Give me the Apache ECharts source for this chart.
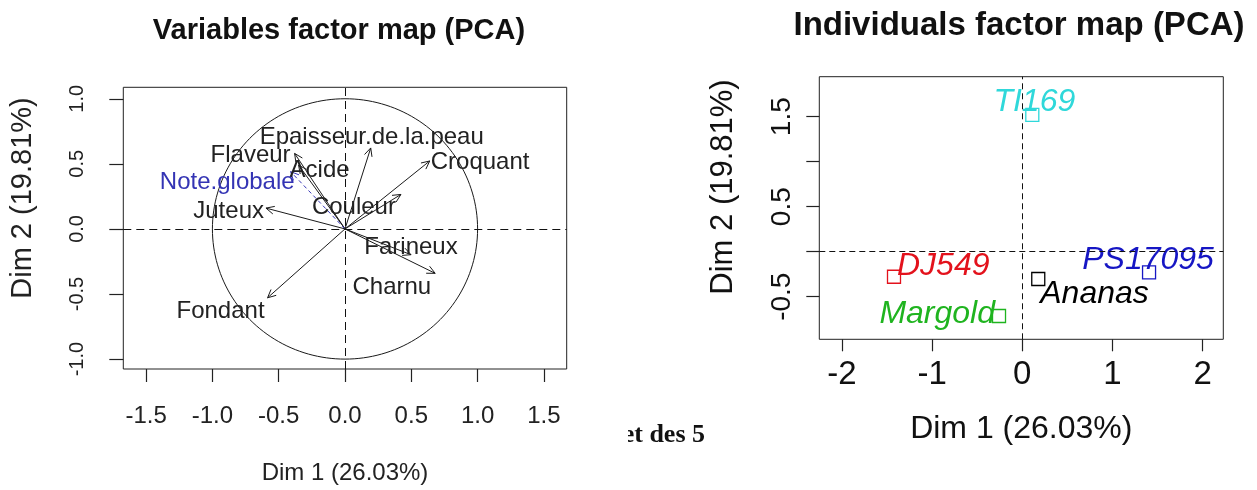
<!DOCTYPE html>
<html>
<head>
<meta charset="utf-8">
<script src="https://cdn.jsdelivr.net/npm/echarts@6/dist/echarts.min.js"></script>
<style>
html,body{margin:0;padding:0;background:#fff;}
#chart{width:1257px;height:490px;}
</style>
</head>
<body>
<div id="chart"></div>
<script>
// ---------- data ----------
const varNames = ['Epaisseur.de.la.peau','Croquant','Flaveur','Acide','Note.globale','Juteux','Couleur','Farineux','Charnu','Fondant'];
const varDim1  = [0.194, 0.639, -0.38, -0.35, -0.41, -0.596, 0.422, 0.498, 0.680, -0.584];
const varDim2  = [0.622, 0.522,  0.58,  0.49,  0.44,  0.160, 0.265, -0.198, -0.341, -0.529];
const supplementaryVars = ['Note.globale'];

const indNames = ['TI169','DJ549','Margold','Ananas','PS17095'];
const indDim1  = [0.111, -1.422, -0.258, 0.177, 1.405];
const indDim2  = [1.519, -0.278, -0.714, -0.303, -0.229];

const leftXTicks  = [-1.5,-1,-0.5,0,0.5,1,1.5];
const leftYTicks  = [-1,-0.5,0,0.5,1];
const rightXTicks = [-2,-1,0,1,2];
const rightYTicks = [-0.5,0,0.5,1,1.5];
const rightYLabels = [-0.5,0.5,1.5];

const titleLeft  = 'Variables factor map (PCA)';
const titleRight = 'Individuals factor map (PCA)';
const dim1Title = 'Dim 1 (26.03%)';
const dim2Title = 'Dim 2 (19.81%)';

// ---------- layout / style ----------
const FONT = '"Liberation Sans", Arial, sans-serif';
const varLabelLayout = {
  'Epaisseur.de.la.peau': ['center', 1, -11],
  'Croquant': ['left', 1, 1],
  'Flaveur': ['right', -4, 2],
  'Acide': ['left', -9, 5],
  'Note.globale': ['right', 4, 11],
  'Juteux': ['right', -2, 3],
  'Couleur': ['right', -5, 13],
  'Farineux': ['center', 0, -7],
  'Charnu': ['right', -4, 14],
  'Fondant': ['right', -3, 14]
};
const indStyle = {
  'TI169':   {color:'#2fd8da', align:'center', off:[2,-12.5]},
  'DJ549':   {color:'#e3121c', align:'left',   off:[3,-11]},
  'Margold': {color:'#1fb41f', align:'right',  off:[-4,-2]},
  'Ananas':  {color:'#000000', align:'left',   off:[2,15]},
  'PS17095': {color:'#1616c4', align:'center', off:[-1,-12]}
};

const chart = echarts.init(document.getElementById('chart'), null, {renderer:'canvas'});

const leftRange = {xmin:-1.672, xmax:1.672, ymin:-1.076, ymax:1.088};
const rightRange = {xmin:-2.25, xmax:2.228, ymin:-0.973, ymax:1.944};

const arrowData = varNames.map((n,i)=>[varDim1[i], varDim2[i], n]);

function arrowItem(params, api){
  const name = api.value(2);
  const o = api.coord([0,0]);
  const p = api.coord([api.value(0), api.value(1)]);
  const ang = Math.atan2(p[1]-o[1], p[0]-o[0]);
  const L = 9, a = Math.PI/7;
  const h1 = [p[0]-L*Math.cos(ang-a), p[1]-L*Math.sin(ang-a)];
  const h2 = [p[0]-L*Math.cos(ang+a), p[1]-L*Math.sin(ang+a)];
  const sup = supplementaryVars.indexOf(name) >= 0;
  const stroke = sup ? '#3a3ab8' : '#1a1a1a';
  const lay = varLabelLayout[name] || ['center',0,-10];
  return {type:'group', children:[
    {type:'line', shape:{x1:o[0],y1:o[1],x2:p[0],y2:p[1]}, style:{stroke:stroke, lineWidth:1, lineDash: sup?[4,3]:null}},
    {type:'polyline', shape:{points:[h1,p,h2]}, style:{stroke:stroke, fill:null, lineWidth:1}},
    {type:'text', x:p[0]+lay[1], y:p[1]+lay[2], z2:10,
      style:{text:name, fill: sup ? '#3434b4' : '#222222', fontSize:24, fontFamily:FONT, align:lay[0], verticalAlign:'middle'}}
  ]};
}

function circleItem(params, api){
  const pts = [];
  for (let k=0;k<=180;k++){
    const t = k/180*2*Math.PI;
    pts.push(api.coord([Math.cos(t), Math.sin(t)]));
  }
  return {type:'polyline', shape:{points:pts}, style:{stroke:'#1a1a1a', fill:null, lineWidth:1}};
}

const indData = indNames.map((n,i)=>{
  const s = indStyle[n];
  return {
    name:n, value:[indDim1[i], indDim2[i]],
    itemStyle:{color:'rgba(0,0,0,0)', borderColor:s.color, borderWidth:1.3, opacity:1},
    label:{show:true, formatter:n, position:'inside', align:s.align, verticalAlign:'middle', offset:s.off,
      color:s.color, opacity:1, fontSize:32, fontStyle:'italic', fontFamily:FONT}
  };
});

const dashedMark = (dash)=>({
  silent:true, symbol:['none','none'], animation:false,
  label:{show:false},
  lineStyle:{color:'#111', width:1, type:dash, opacity:1},
  emphasis:{disabled:true},
  data:[{xAxis:0},{yAxis:0}]
});

const option = {
  animation:false,
  backgroundColor:'#ffffff',
  title:[
    {text:titleLeft, left:339, top:16, textAlign:'center', padding:0,
      textStyle:{fontSize:29, fontWeight:'bold', color:'#111', fontFamily:FONT}},
    {text:titleRight, left:1019, top:9, textAlign:'center', padding:0,
      textStyle:{fontSize:33, fontWeight:'bold', color:'#111', fontFamily:FONT}}
  ],
  grid:[
    {left:123.3, top:87.3, width:443.4, height:287.7, show:true, borderColor:'#222', borderWidth:1, backgroundColor:'transparent'},
    {left:819.3, top:76.7, width:404, height:262.6, show:true, borderColor:'#222', borderWidth:1, backgroundColor:'transparent'}
  ],
  xAxis:[
    {gridIndex:0, type:'value', min:leftRange.xmin, max:leftRange.xmax,
      axisLine:{show:false, onZero:false}, splitLine:{show:false},
      axisTick:{show:true, length:13, customValues:leftXTicks, lineStyle:{color:'#222', width:1.2}},
      axisLabel:{customValues:leftXTicks, margin:35, fontSize:24, color:'#222', fontFamily:FONT, formatter:v=>v.toFixed(1)},
      name:dim1Title, nameLocation:'middle', nameGap:92, nameTextStyle:{fontSize:24, color:'#222', fontFamily:FONT}},
    {gridIndex:1, type:'value', min:rightRange.xmin, max:rightRange.xmax,
      axisLine:{show:false, onZero:false}, splitLine:{show:false},
      axisTick:{show:true, length:12, customValues:rightXTicks, lineStyle:{color:'#222', width:1.2}},
      axisLabel:{customValues:rightXTicks, margin:19, fontSize:33, color:'#111', fontFamily:FONT},
      name:dim1Title, nameLocation:'middle', nameGap:74, nameTextStyle:{fontSize:32, color:'#111', fontFamily:FONT}}
  ],
  yAxis:[
    {gridIndex:0, type:'value', min:leftRange.ymin, max:leftRange.ymax,
      axisLine:{show:false, onZero:false}, splitLine:{show:false},
      axisTick:{show:true, length:14, customValues:leftYTicks, lineStyle:{color:'#222', width:1.2}},
      axisLabel:{customValues:leftYTicks, rotate:90, margin:36, fontSize:20, color:'#222', fontFamily:FONT, formatter:v=>v.toFixed(1)}},
    {gridIndex:1, type:'value', min:rightRange.ymin, max:rightRange.ymax,
      axisLine:{show:false, onZero:false}, splitLine:{show:false},
      axisTick:{show:true, length:13, customValues:rightYTicks, lineStyle:{color:'#222', width:1.2}},
      axisLabel:{customValues:rightYLabels, rotate:90, margin:23, fontSize:28, color:'#111', fontFamily:FONT}}
  ],
  graphic:[
    {type:'text', x:23, y:198, rotation:Math.PI/2, style:{text:dim2Title, fontSize:29, fontFamily:FONT, fill:'#222', align:'center', verticalAlign:'middle'}},
    {type:'text', x:723, y:187, rotation:Math.PI/2, style:{text:dim2Title, fontSize:31, fontFamily:FONT, fill:'#111', align:'center', verticalAlign:'middle'}},
    {type:'text', x:705, y:435, z:1, style:{text:'et des 5', fontSize:26, fontWeight:'bold', fontFamily:'"Liberation Serif", "Times New Roman", serif', fill:'#111', align:'right', verticalAlign:'middle'}},
    {type:'rect', z:2, shape:{x:612, y:418, width:16, height:34}, style:{fill:'#ffffff'}}
  ],
  series:[
    {type:'scatter', xAxisIndex:0, yAxisIndex:0, data:[[0,0]], symbolSize:0, silent:true, markLine:dashedMark([8,5])},
    {type:'custom', xAxisIndex:0, yAxisIndex:0, data:[[0,0]], renderItem:circleItem, silent:true, clip:false},
    {type:'custom', xAxisIndex:0, yAxisIndex:0, data:arrowData, renderItem:arrowItem, silent:true, clip:false,
      encode:{x:0, y:1}, dimensions:['x','y',{name:'n', type:'ordinal'}]},
    {type:'scatter', xAxisIndex:1, yAxisIndex:1, symbol:'rect', symbolSize:13, data:indData, silent:true,
      itemStyle:{opacity:1}, markLine:dashedMark([6,4])}
  ]
};
chart.setOption(option);
</script>
</body>
</html>
